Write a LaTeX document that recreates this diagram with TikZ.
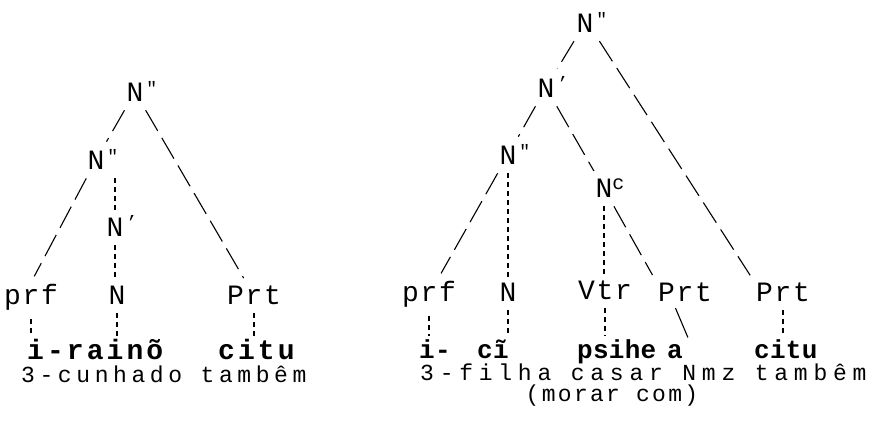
\documentclass[tikz,border=0pt]{standalone}
\usepackage{fontspec}
\newfontfamily\labf[LetterSpace=6]{Liberation Mono}
\newfontfamily\glf[LetterSpace=25]{Liberation Mono}
\newfontfamily\glfl[LetterSpace=20]{Liberation Mono}
\newfontfamily\parf[LetterSpace=10]{Liberation Mono}
\newfontfamily\bwide[LetterSpace=11]{Liberation Mono}
\newfontfamily\bnarrow[LetterSpace=1]{Liberation Mono}
\newcommand\dq{\rlap{\hspace{3pt}\raisebox{7pt}{\fontsize{18}{18}\selectfont"}}}
\newcommand\sg{\rlap{\hspace{3pt}\raisebox{8pt}{\fontsize{18}{18}\selectfont’}}}
\newcommand\supc{\rlap{\raisebox{8pt}{\fontsize{20}{20}\selectfont c}}}
\begin{document}
\begin{tikzpicture}[x=1pt,y=-1pt,
  lab/.style={font=\labf\fontsize{28}{28}\selectfont, inner sep=2pt, anchor=base},
  wordl/.style={font=\bwide\bfseries\fontsize{28}{28}\selectfont, inner sep=0pt, anchor=base west},
  wordr/.style={font=\bnarrow\bfseries\fontsize{26}{26}\selectfont, inner sep=0pt, anchor=base west},
  gl/.style={font=\glf\fontsize{23}{23}\selectfont, inner sep=0pt, anchor=base west},
  gll/.style={font=\glfl\fontsize{23}{23}\selectfont, inner sep=0pt, anchor=base west},
  par/.style={font=\parf\fontsize{23}{23}\selectfont, inner sep=0pt, anchor=base},
  br/.style={line width=1.1pt, dash pattern=on 24pt off 8pt, shorten <=7pt, shorten >=7pt},
  vr/.style={line width=1.1pt, dash pattern=on 5pt off 4pt, shorten <=6pt, shorten >=4pt}]
\path[use as bounding box] (0,0) rectangle (894,443);
% left tree
\node[lab] (Ltop) at (135,102) {N\dq};
\node[lab] (Lnb2) at (96,170) {N\dq};
\node[lab] (Lnb1) at (115,237) {N\sg};
\node[lab] (Lprf) at (31,305) {prf};
\node[lab] (LN) at (117,305) {N};
\node[lab] (LPrt) at (254,305) {Prt};
\node[wordl] (Lw1) at (27,360) {i-rainõ};
\node[wordl] (Lw2) at (218,360) {citu};
\node[gll] (Lg) at (21,382) {3-cunhado tambêm};
\draw[br] (Ltop) -- (Lnb2);
\draw[br] (Ltop) -- (LPrt);
\draw[br] (Lnb2) -- (Lprf.north);
\draw[vr] (Lnb1 |- Lnb2.south) -- (Lnb1.north);
\draw[vr] (Lnb1.south) -- (Lnb1.south |- LN.north);
\draw[vr] (Lprf.south) -- (Lprf.south |- Lw1.north);
\draw[vr] (LN.south) -- (LN.south |- Lw1.north);
\draw[vr] (LPrt.south) -- (LPrt.south |- Lw2.north);
% right tree
\node[lab] (Rtop) at (585,33) {N\dq};
\node[lab] (Rnb1) at (546,98) {N\sg};
\node[lab] (Rnb2) at (508,165) {N\dq};
\node[lab] (RNc) at (604,198) {N\supc};
\node[lab] (Rprf) at (429,302) {prf};
\node[lab] (RN) at (508,302) {N};
\node[lab] (RVtr) at (605,300) {Vtr};
\node[lab] (RPrt1) at (685,302) {Prt};
\node[lab] (RPrt2) at (783,302) {Prt};
\node[wordr] (Rw1) at (419,359) {i-};
\node[wordr] (Rw2) at (477,359) {cĩ};
\node[wordr] (Rw3) at (577,359) {psihe};
\node[wordr] (Rw4) at (667,359) {a};
\node[wordr] (Rw5) at (754,359) {citu};
\node[gl] (Rg) at (420,381) {3-filha casar Nmz tambêm};
\node[par] (Rg2) at (612,401) {(morar com)};
\draw[br] (Rtop) -- (Rnb1);
\draw[br] (Rtop.south east) -- (RPrt2.north west);
\draw[br] (Rnb1) -- (Rnb2);
\draw[br] (Rnb1) -- (RNc);
\draw[br] (Rnb2) -- (Rprf);
\draw[br] (RNc) -- (RPrt1.north west);
\draw[vr] (Rnb2.south) -- (Rnb2.south |- RN.north);
\draw[vr] (RNc.south) -- (RNc.south |- RVtr.north);
\draw[vr] (Rprf.south) -- (Rprf.south |- Rw1.north);
\draw[vr] (RN.south) -- (RN.south |- Rw2.north);
\draw[vr] (RVtr.south) -- (RVtr.south |- Rw3.north);
\draw[line width=1.1pt, shorten <=4pt, shorten >=8pt] ([xshift=18pt]RPrt1.south west) -- ([xshift=8pt]Rw4.north east);
\draw[vr] (RPrt2.south) -- (RPrt2.south |- Rw5.north);
\end{tikzpicture}
\end{document}
